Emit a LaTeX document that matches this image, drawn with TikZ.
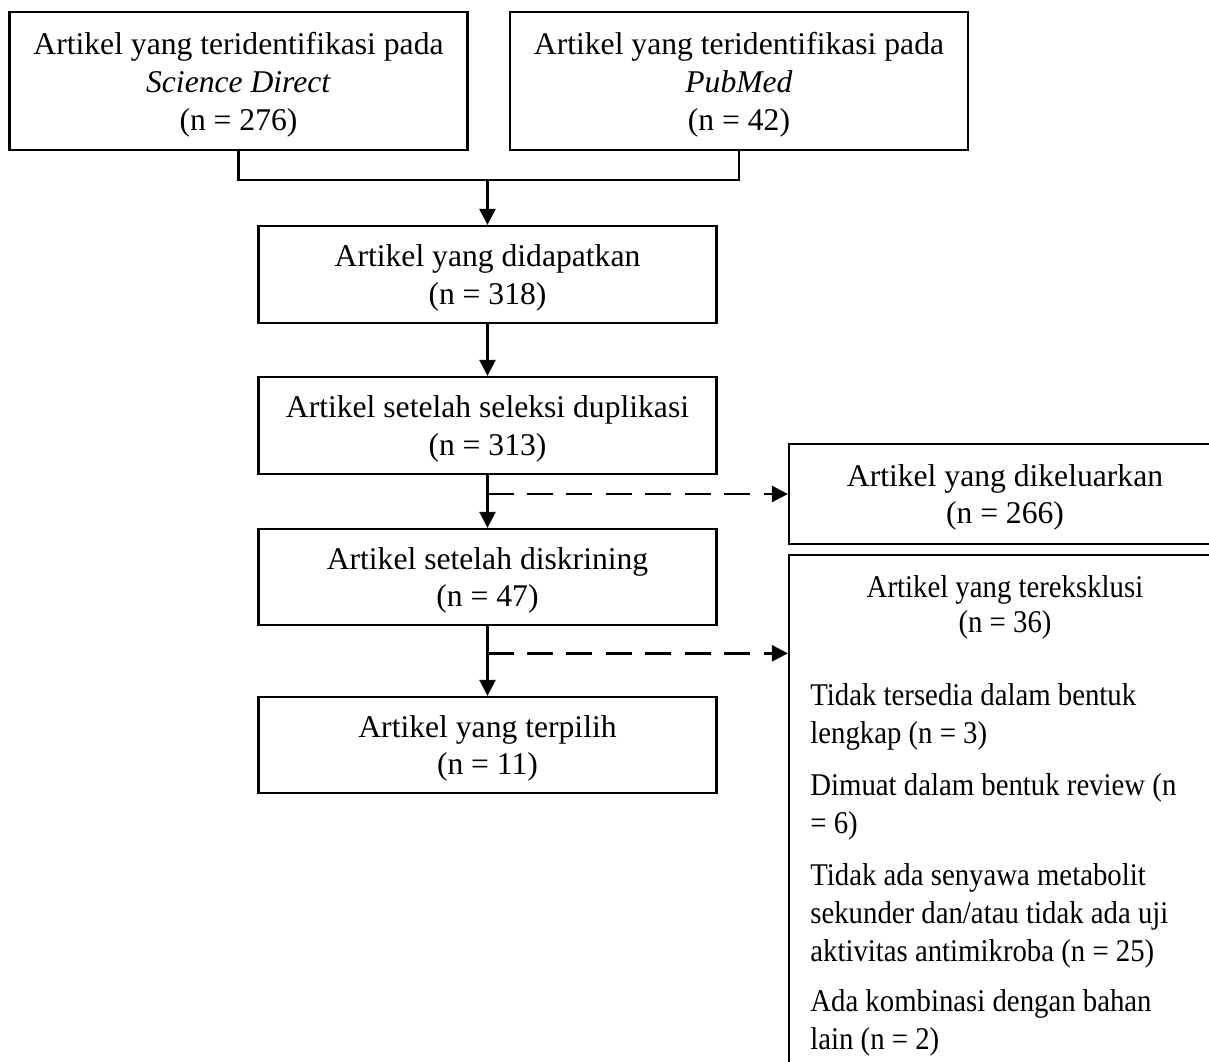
\documentclass[tikz,border=0pt]{standalone}
\usepackage{fontspec}
\setmainfont{Liberation Serif}
\newfontfamily\narrowserif[FakeStretch=0.91]{Liberation Serif}
\usetikzlibrary{arrows.meta,calc}

\tikzset{
  flowbox/.style={draw, rectangle, line width=1.3pt, align=center, inner sep=0pt,
    minimum width=9.16cm, text depth=-1pt, font=\fontsize{18}{21.6}\selectfont},
  sidebox/.style={draw, rectangle, line width=1.3pt, inner sep=0pt, minimum width=8.64cm},
  flowarrow/.style={line width=1.4pt, -{Stealth[inset=0pt,length=0.32cm,width=0.32cm]}},
  dasharrow/.style={flowarrow, dash pattern=on 0.52cm off 0.27cm},
}

\begin{document}
\begin{tikzpicture}[x=0.02cm,y=-0.02cm]
\useasboundingbox (0,0) rectangle (1209,1061);
\fill[white] (0,0) rectangle (1209,1061);
% sumber
\node[flowbox, minimum height=2.76cm] (sd) at (238.5,81) {Artikel yang teridentifikasi pada\\\textit{Science Direct}\\(n = 276)};
\node[flowbox, minimum height=2.76cm] (pm) at (739,81) {Artikel yang teridentifikasi pada\\\textit{PubMed}\\(n = 42)};
% alur utama
\node[flowbox, minimum height=1.94cm] (got) at (487.5,274.5) {Artikel yang didapatkan\\(n = 318)};
\node[flowbox, minimum height=1.94cm] (dup) at (487.5,425.5) {Artikel setelah seleksi duplikasi\\(n = 313)};
\node[flowbox, minimum height=1.92cm] (scr) at (487.5,577) {Artikel setelah diskrining\\(n = 47)};
\node[flowbox, minimum height=1.92cm] (sel) at (487.5,745) {Artikel yang terpilih\\(n = 11)};
% eksklusi
\node[flowbox, minimum width=8.64cm, minimum height=2cm] (exA) at (1005,494) {Artikel yang dikeluarkan\\(n = 266)};
\node[sidebox, minimum height=11.3cm] (exB) at (1005,837.5) {};
\node[font=\narrowserif\fontsize{18}{20}\selectfont, align=center, inner sep=0pt] (exBt) at (1005,607) {Artikel yang tereksklusi\\(n = 36)};
\node[font=\narrowserif\fontsize{18}{21.6}\selectfont, align=left, anchor=north west, inner sep=0pt] (exBl) at (810,683)
  {Tidak tersedia dalam bentuk\\lengkap (n = 3)\\[8pt]
   Dimuat dalam bentuk review (n\\{}= 6)\\[8pt]
   Tidak ada senyawa metabolit\\sekunder dan/atau tidak ada uji\\aktivitas antimikroba (n = 25)\\[7pt]
   Ada kombinasi dengan bahan\\lain (n = 2)};
% panah
\coordinate (merge) at (487.5,180);
\draw[line width=1.3pt] (sd.south) |- (merge) -| (pm.south);
\draw[flowarrow] (merge) -- (got.north);
\draw[flowarrow] (got) -- (dup);
\draw[flowarrow] (dup) -- (scr);
\draw[flowarrow] (scr) -- (sel);
\draw[dasharrow] (dup.south |- exA.west) -- (exA.west);
\coordinate (tapB) at ($(scr.south)!0.39!(sel.north)$);
\draw[dasharrow] (tapB) -- (exB.west |- tapB);
\end{tikzpicture}
\end{document}
